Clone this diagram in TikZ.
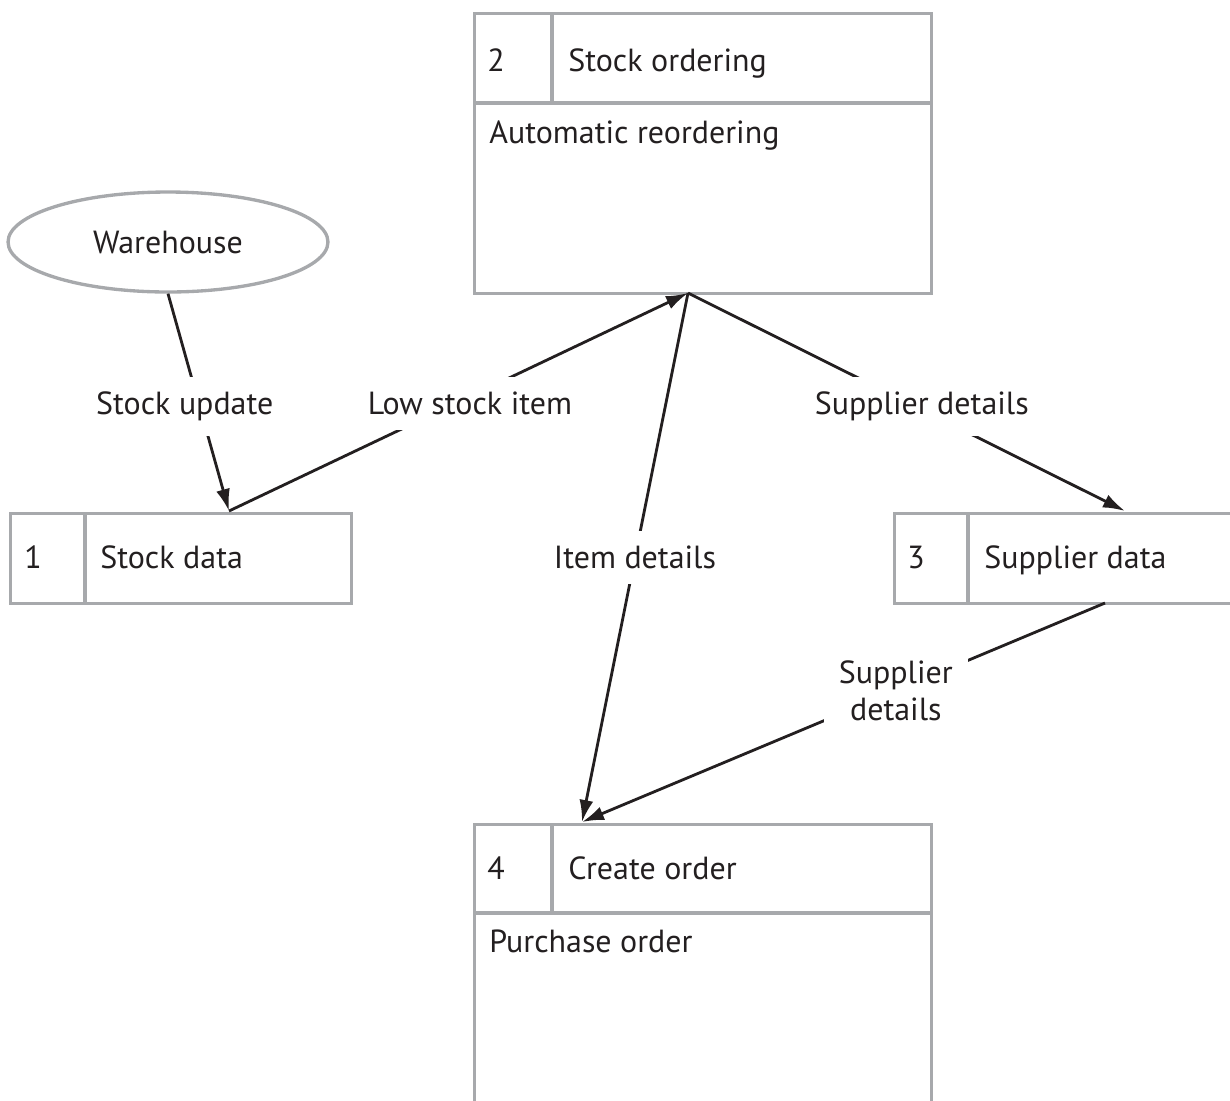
\documentclass[tikz,border=0pt]{standalone}
\usepackage{fontspec}
\setmainfont{PT Sans}
\usetikzlibrary{arrows.meta,shapes.geometric}
\definecolor{boxgray}{HTML}{A7A9AC}
\definecolor{ink}{HTML}{231F20}
\tikzset{
  box/.style={draw=boxgray, line width=1.9pt, inner sep=0pt, anchor=north west},
  edge/.style={draw=boxgray, line width=1.9pt},
  flow/.style={draw=ink, line width=1.6pt, -{Latex[length=4.4mm,width=2.8mm]}},
  flowlabel/.style={fill=white, inner xsep=1pt, inner ysep=0.3cm},
  every node/.style={text=ink, font=\fontsize{18.2}{21}\selectfont}
}
\begin{document}
\begin{tikzpicture}[x=0.02cm, y=-0.02cm]
\useasboundingbox (0,0) rectangle (1230,1100);

% external entity
\node[ellipse, draw=boxgray, line width=1.9pt, minimum width=6.4cm, minimum height=2cm, inner sep=0pt] (wh) at (168,242) {Warehouse};

% process 2
\node[box, minimum width=9.14cm, minimum height=5.6cm] (p2) at (473,12) {};
\draw[edge] (473,103) -- (930,103);
\draw[edge] (552,12) -- (552,103);
\node[anchor=base] (n2) at (496,71) {2};
\node[anchor=base west, inner sep=0pt] (t2) at (568,71) {Stock ordering};
\node[anchor=base west, inner sep=0pt] (d2) at (489,143) {Automatic reordering};

% data store 1
\node[box, minimum width=6.82cm, minimum height=1.8cm] (s1) at (9,512) {};
\draw[edge] (85,512) -- (85,602);
\node[anchor=base] (n1) at (33,568) {1};
\node[anchor=base west, inner sep=0pt] (t1) at (100,568) {Stock data};

% data store 3
\node[box, minimum width=7.2cm, minimum height=1.8cm] (s3) at (893,512) {};
\draw[edge] (968,512) -- (968,602);
\node[anchor=base] (n3) at (916,568) {3};
\node[anchor=base west, inner sep=0pt] (t3) at (984,568) {Supplier data};

% process 4
\node[box, minimum width=9.14cm, minimum height=6.2cm] (p4) at (473,823) {};
\draw[edge] (473,913) -- (930,913);
\draw[edge] (552,823) -- (552,913);
\node[anchor=base] (n4) at (496,879) {4};
\node[anchor=base west, inner sep=0pt] (t4) at (568,879) {Create order};
\node[anchor=base west, inner sep=0pt] (d4) at (489,952) {Purchase order};

% end points on the boxes
\coordinate (p2in) at (688,293);
\coordinate (s1in) at (229,511);
\coordinate (s3in) at (1125,511);
\coordinate (s3out) at (1105,603);
\coordinate (p4in) at (582,822);

% data flows
\draw[flow] (wh.south) -- node[flowlabel, pos=0.52, xshift=-0.3cm] {Stock update} (s1in);
\draw[flow] (s1in) -- node[flowlabel, pos=0.525, yshift=-0.14cm] {Low stock item} (p2in);
\draw[flow] (p2in) -- node[flowlabel, pos=0.535, yshift=0.06cm] {Supplier details} (s3in);
\draw[flow] (p2in) -- node[flowlabel, pos=0.5] {Item details} (p4in);
\draw[flow] (s3out) -- node[flowlabel, pos=0.4, align=center, inner sep=0.3cm] {Supplier\\details} (p4in);
\end{tikzpicture}
\end{document}
